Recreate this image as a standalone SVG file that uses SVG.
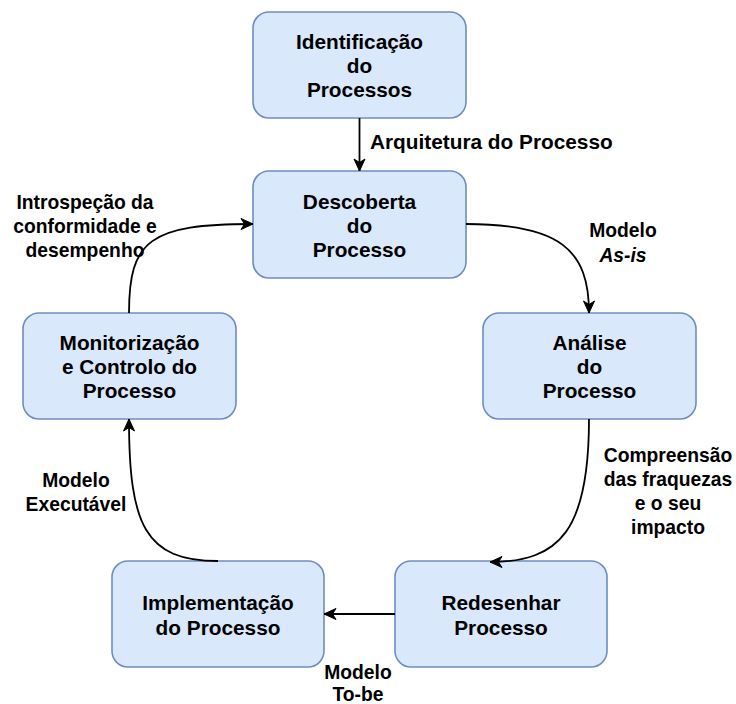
<svg xmlns="http://www.w3.org/2000/svg" width="736" height="704" viewBox="0 0 736 704">
<defs>
<marker id="arr" markerUnits="userSpaceOnUse" markerWidth="14" markerHeight="14" viewBox="0 0 14 14" refX="13" refY="7" orient="auto">
<path d="M1,1.5 L13,7 L1,12.5 L4.5,7 Z" fill="#000" stroke="#000" stroke-width="1" stroke-linejoin="miter"/>
</marker>
<style>
.box{fill:#dae8fc;stroke:#6c8ebf;stroke-width:1.6}
.t{font-family:"Liberation Sans",Arial,sans-serif;font-weight:bold;font-size:20.8px;fill:#000;text-anchor:middle}
.lbl{font-family:"Liberation Sans",Arial,sans-serif;font-weight:bold;font-size:19.3px;fill:#000;text-anchor:middle}
.edge{fill:none;stroke:#000;stroke-width:1.8;marker-end:url(#arr)}
</style>
</defs>
<rect width="736" height="704" fill="#fff"/>
<g id="n1">
<rect class="box" x="253" y="12" width="213" height="106" rx="16"/>
<text class="t" x="359.5" y="48.5">Identificação</text>
<text class="t" x="359.5" y="72.5">do</text>
<text class="t" x="359.5" y="96.5">Processos</text>
</g>
<g id="n2">
<rect class="box" x="253" y="171" width="213" height="107" rx="16"/>
<text class="t" x="359.5" y="208.5">Descoberta</text>
<text class="t" x="359.5" y="232.5">do</text>
<text class="t" x="359.5" y="256.5">Processo</text>
</g>
<g id="n3">
<rect class="box" x="483" y="313" width="213" height="106" rx="16"/>
<text class="t" x="589.5" y="350">Análise</text>
<text class="t" x="589.5" y="374">do</text>
<text class="t" x="589.5" y="398">Processo</text>
</g>
<g id="n4">
<rect class="box" x="395" y="561" width="212" height="106" rx="16"/>
<text class="t" x="501" y="610">Redesenhar</text>
<text class="t" x="501" y="635">Processo</text>
</g>
<g id="n5">
<rect class="box" x="112" y="561" width="212" height="106" rx="16"/>
<text class="t" x="218" y="610">Implementação</text>
<text class="t" x="218" y="635">do Processo</text>
</g>
<g id="n6">
<rect class="box" x="23" y="313" width="213" height="106" rx="16"/>
<text class="t" x="129.5" y="350">Monitorização</text>
<text class="t" x="129.5" y="374">e Controlo do</text>
<text class="t" x="129.5" y="398">Processo</text>
</g>
<g id="edges">
<path class="edge" d="M359.5,118 L359.5,171"/>
<path class="edge" d="M466,224 C560,224 589,250 589,313"/>
<path class="edge" d="M589,419 C589,530 560,562 490,562"/>
<path class="edge" d="M395,614 L324,614"/>
<path class="edge" d="M218,561 C145,561 129,525 129,419"/>
<path class="edge" d="M129,313 C129,240 150,224 253,224"/>
</g>
<g id="labels">
<text class="t" x="370" y="148.5" style="text-anchor:start">Arquitetura do Processo</text>
<text class="lbl" x="623" y="237">Modelo</text>
<text class="lbl" x="623" y="262" font-style="italic">As-is</text>
<text class="lbl" x="668" y="462">Compreensão</text>
<text class="lbl" x="668" y="486">das fraquezas</text>
<text class="lbl" x="668" y="510">e o seu</text>
<text class="lbl" x="668" y="534">impacto</text>
<text class="lbl" x="358" y="679">Modelo</text>
<text class="lbl" x="358" y="701">To-be</text>
<text class="lbl" x="76" y="487">Modelo</text>
<text class="lbl" x="76" y="511">Executável</text>
<text class="lbl" x="85" y="209">Introspeção da</text>
<text class="lbl" x="85" y="233">conformidade e</text>
<text class="lbl" x="85" y="257">desempenho</text>
</g>
</svg>
